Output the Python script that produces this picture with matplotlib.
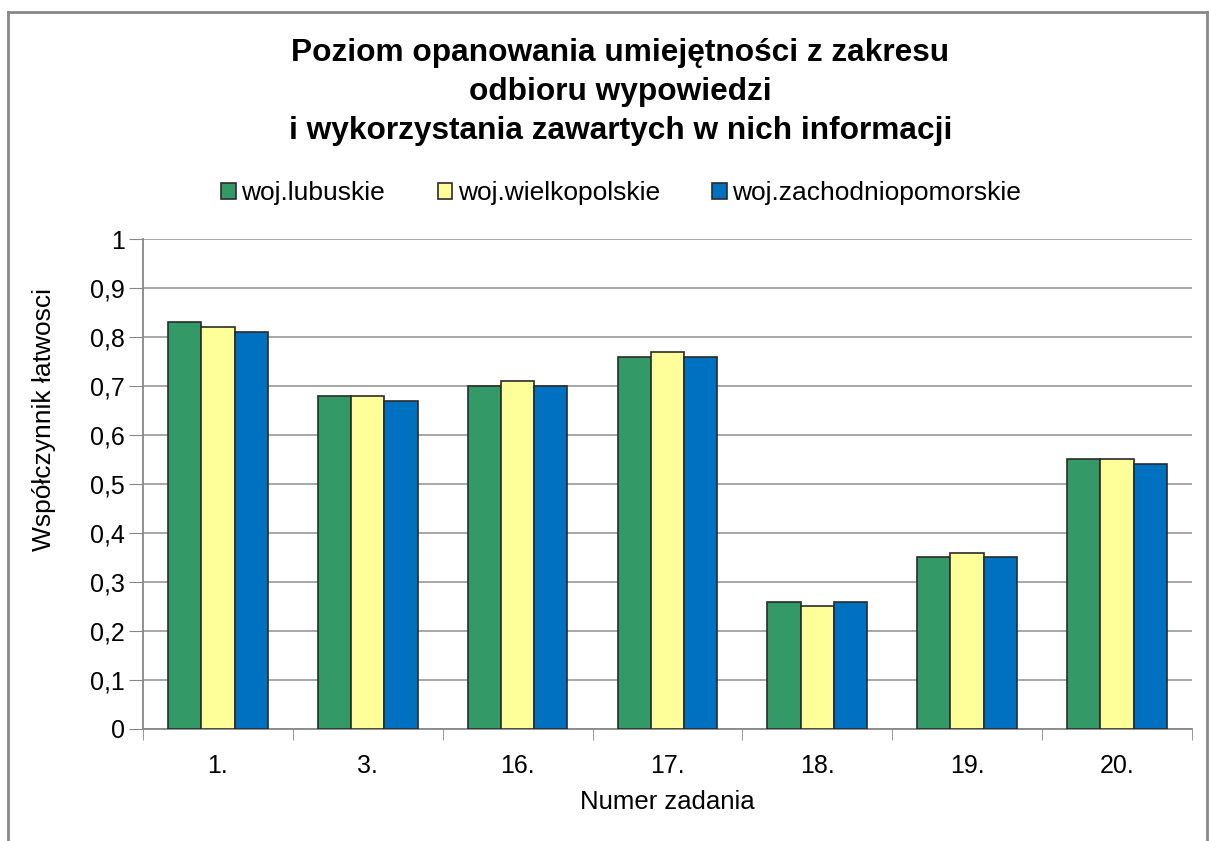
import numpy as np
import matplotlib.pyplot as plt
from matplotlib.lines import Line2D
from matplotlib.ticker import FuncFormatter

plt.rcParams['font.family'] = ['Liberation Sans', 'DejaVu Sans']

tasks = ["1.", "3.", "16.", "17.", "18.", "19.", "20."]
lubuskie = [0.83, 0.68, 0.70, 0.76, 0.26, 0.35, 0.55]
wielkopolskie = [0.82, 0.68, 0.71, 0.77, 0.25, 0.36, 0.55]
zachodniopomorskie = [0.81, 0.67, 0.70, 0.76, 0.26, 0.35, 0.54]

series = [
    ("woj.lubuskie", lubuskie, "#339966"),
    ("woj.wielkopolskie", wielkopolskie, "#FFFF99"),
    ("woj.zachodniopomorskie", zachodniopomorskie, "#0070C0"),
]

fig = plt.figure(figsize=(12.09, 8.41), dpi=100)
ax = fig.add_axes([0.1183, 0.1332, 0.8675, 0.5826])

x = np.arange(len(tasks))
width = 0.222
for i, (name, vals, col) in enumerate(series):
    ax.bar(x + (i - 1) * width, vals, width, color=col, edgecolor="#2b2b2b",
           linewidth=1.2, label=name, zorder=3)

ax.set_xlim(-0.5, len(tasks) - 0.5)
ax.set_ylim(0, 1)
ax.set_yticks(np.arange(0, 1.01, 0.1))
ax.yaxis.set_major_formatter(FuncFormatter(lambda v, p: "0" if v == 0 else ("1" if v == 1 else f"{v:.1f}".replace(".", ","))))
ax.set_xticks(x)
ax.set_xticklabels(tasks)
ax.set_xticks(np.arange(-0.5, len(tasks)), minor=True)
ax.tick_params(axis="x", which="major", length=0, pad=18, labelsize=18)
ax.tick_params(axis="x", which="minor", length=8, color="#888888", direction="out")
ax.tick_params(axis="y", length=10, color="#888888", direction="out", labelsize=18, pad=3)

ax.grid(axis="y", color="#a0a0a0", linewidth=1.3, zorder=0)
for s in ["top", "right"]:
    ax.spines[s].set_visible(False)
ax.spines["left"].set_color("#888888")
ax.spines["bottom"].set_color("#888888")
ax.spines["left"].set_linewidth(1.3)
ax.spines["bottom"].set_linewidth(1.3)

ax.set_xlabel("Numer zadania", fontsize=18.5, labelpad=9)
ax.set_ylabel("Współczynnik łatwosci", fontsize=19)
ax.yaxis.set_label_coords(-0.083, 0.631)

fig.text(0.513, 0.955, "Poziom opanowania umiejętności z zakresu\nodbioru wypowiedzi\ni wykorzystania zawartych w nich informacji",
         ha="center", va="top", fontsize=22.8, fontweight="bold", linespacing=1.4)

ax.legend(loc="center", bbox_to_anchor=(0.456, 1.093), ncol=3, frameon=False,
          fontsize=19, handlelength=0.55, handleheight=0.55, handletextpad=0.2,
          columnspacing=2.0)

# outer chart frame
fig.add_artist(Line2D([8 / 1209, 8 / 1209], [0, 1 - 12 / 841], color="#888888", lw=2))
fig.add_artist(Line2D([8 / 1209, 1207 / 1209], [1 - 12 / 841, 1 - 12 / 841], color="#888888", lw=2))
fig.add_artist(Line2D([1207 / 1209, 1207 / 1209], [0, 1 - 12 / 841], color="#888888", lw=2))

fig.savefig("out.png", dpi=100)
